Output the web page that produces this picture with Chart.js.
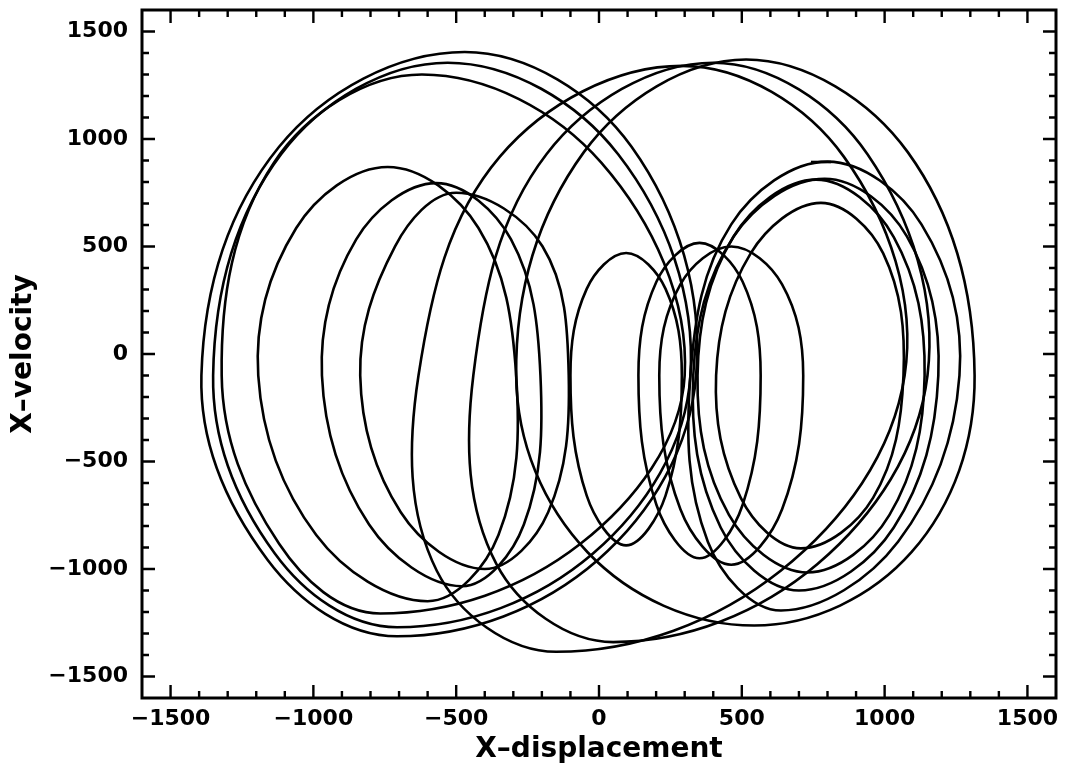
<!DOCTYPE html>
<html>
<head>
<meta charset="utf-8">
<script src="https://cdn.jsdelivr.net/npm/chart.js@4"></script>
<style>
  html, body { margin: 0; padding: 0; background: #fff; }
  #wrap { width: 1067px; height: 772px; }
</style>
</head>
<body>
<div id="wrap"><canvas id="phase"></canvas></div>
<script>
// ----- Data: each loop is 8 points (right, bottom-right, bottom,
// bottom-left, left, top-left, top, top-right), as [x-displacement, x-velocity] -----
const loopA1 = [[340,-100],[-4,-958],[-707,-1313],[-1160,-958],[-1392,-100],[-1120,964],[-470,1405],[114,964]];
const loopA2 = [[320,-100],[-21,-928],[-707,-1271],[-1135,-928],[-1351,-100],[-1113,929],[-530,1355],[67,929]];
const loopA3 = [[300,-100],[-65,-883],[-766,-1207],[-1120,-883],[-1321,-100],[-1138,890],[-620,1300],[8,890]];
const loopB1 = [[-290,-100],[-352,-842],[-600,-1150],[-990,-842],[-1193,-100],[-1060,586],[-740,870],[-422,586]];
const loopB2 = [[-205,-100],[-263,-793],[-480,-1080],[-805,-793],[-970,-100],[-850,533],[-570,795],[-308,533]];
const loopB3 = [[-106,-100],[-178,-736],[-400,-1000],[-694,-736],[-836,-100],[-714,501],[-500,750],[-198,501]];
const loopC1 = [[1070,-100],[636,-1008],[-150,-1385],[-568,-1008],[-632,-100],[-347,918],[290,1340],[857,918]];
const loopC2 = [[1150,-100],[765,-977],[50,-1340],[-359,-977],[-440,-100],[-184,929],[400,1355],[940,929]];
const loopC3 = [[1315,-100],[1094,-922],[543,-1263],[-40,-922],[-290,-100],[-53,939],[515,1370],[1081,939]];
const loopS1 = [[290,-100],[233,-659],[95,-890],[-43,-659],[-100,-100],[-43,303],[95,470],[233,303]];
const loopS2 = [[566,-100],[503,-701],[352,-950],[201,-701],[138,-100],[201,336],[352,517],[503,336]];
const loopS3 = [[715,-100],[641,-722],[463,-980],[285,-722],[211,-100],[285,324],[463,500],[641,324]];
const loopR1 = [[1066,-100],[960,-668],[707,-904],[496,-668],[410,-100],[531,468],[777,703],[995,468]];
const loopR2 = [[1140,-100],[1017,-748],[730,-1016],[455,-748],[345,-100],[470,544],[760,811],[1032,544]];
const loopR3 = [[1188,-100],[1032,-807],[700,-1100],[426,-807],[330,-100],[472,547],[790,815],[1078,547]];
const loopR4 = [[1262,-100],[1047,-873],[637,-1193],[381,-873],[320,-100],[463,603],[800,895],[1129,603]];
const startSegment = [[742,893],[812,893]];

const loops = [loopA1, loopA2, loopA3, loopB1, loopB2, loopB3, loopC1, loopC2, loopC3,
               loopS1, loopS2, loopS3, loopR1, loopR2, loopR3, loopR4];

const xTicks = [-1500, -1000, -500, 0, 500, 1000, 1500];
const yTicks = [-1500, -1000, -500, 0, 500, 1000, 1500];

const toXY = p => ({x: p[0], y: p[1]});
const LINE_W = 2.6;

// closed loop: wrap one point on each side so the spline stays smooth where it closes,
// then hide the two extra segments
function loopDataset(pts) {
  const ring = [pts[pts.length - 1]].concat(pts, [pts[0], pts[1]]);
  const last = ring.length - 2;
  return {
    data: ring.map(toXY),
    showLine: true,
    borderColor: '#000',
    borderWidth: LINE_W,
    pointRadius: 0,
    tension: 0.37,
    segment: {
      borderColor: c => (c.p0DataIndex === 0 || c.p0DataIndex >= last) ? 'rgba(0,0,0,0)' : '#000'
    }
  };
}

const datasets = loops.map(loopDataset);
datasets.push({
  data: startSegment.map(toXY),
  showLine: true, borderColor: '#000', borderWidth: LINE_W, pointRadius: 0, tension: 0
});

// ----- Frame and inward ticks on all four sides -----
const frameTicks = {
  id: 'frameTicks',
  afterDraw(chart) {
    const {ctx, chartArea: a, scales: {x, y}} = chart;
    ctx.save();
    ctx.strokeStyle = '#000';
    ctx.lineWidth = 3;
    ctx.strokeRect(a.left, a.top, a.right - a.left, a.bottom - a.top);
    ctx.lineWidth = 2.4;
    ctx.beginPath();
    for (let v = -1500; v <= 1500; v += 100) {
      const len = (v % 500 === 0) ? 13 : 7;
      const px = x.getPixelForValue(v);
      ctx.moveTo(px, a.bottom); ctx.lineTo(px, a.bottom - len);
      ctx.moveTo(px, a.top);    ctx.lineTo(px, a.top + len);
      const py = y.getPixelForValue(v);
      ctx.moveTo(a.left, py);  ctx.lineTo(a.left + len, py);
      ctx.moveTo(a.right, py); ctx.lineTo(a.right - len, py);
    }
    ctx.stroke();
    ctx.restore();
  }
};

const tickFont = {family: 'DejaVu Sans', size: 22, weight: 'bold'};
const titleFont = {family: 'DejaVu Sans', size: 28, weight: 'bold'};
const fmt = v => v < 0 ? '\u2212' + Math.abs(v) : String(v);

new Chart(document.getElementById('phase'), {
  type: 'scatter',
  data: {datasets: datasets},
  options: {
    responsive: true,
    maintainAspectRatio: false,
    animation: false,
    layout: {padding: {top: 10, right: 11, left: 0, bottom: 0}},
    plugins: {legend: {display: false}, tooltip: {enabled: false}},
    scales: {
      x: {
        type: 'linear', min: -1600, max: 1600,
        afterBuildTicks: s => { s.ticks = xTicks.map(v => ({value: v})); },
        afterFit: s => { s.height = 74; s.paddingLeft = 0; s.paddingRight = 0; },
        grid: {display: false, drawTicks: false},
        border: {display: false},
        ticks: {font: tickFont, color: '#000', padding: 8, maxRotation: 0, callback: fmt},
        title: {display: true, text: 'X\u2013displacement', font: titleFont, color: '#000',
                padding: {top: 0, bottom: 5}}
      },
      y: {
        type: 'linear', min: -1600, max: 1600,
        afterBuildTicks: s => { s.ticks = yTicks.map(v => ({value: v})); },
        afterFit: s => { s.width = 142; s.paddingTop = 0; s.paddingBottom = 0; },
        grid: {display: false, drawTicks: false},
        border: {display: false},
        ticks: {font: tickFont, color: '#000', padding: 14, callback: fmt},
        title: {display: true, text: 'X\u2013velocity', font: titleFont, color: '#000',
                padding: {top: 7, bottom: 0}}
      }
    }
  },
  plugins: [frameTicks]
});
</script>
</body>
</html>
